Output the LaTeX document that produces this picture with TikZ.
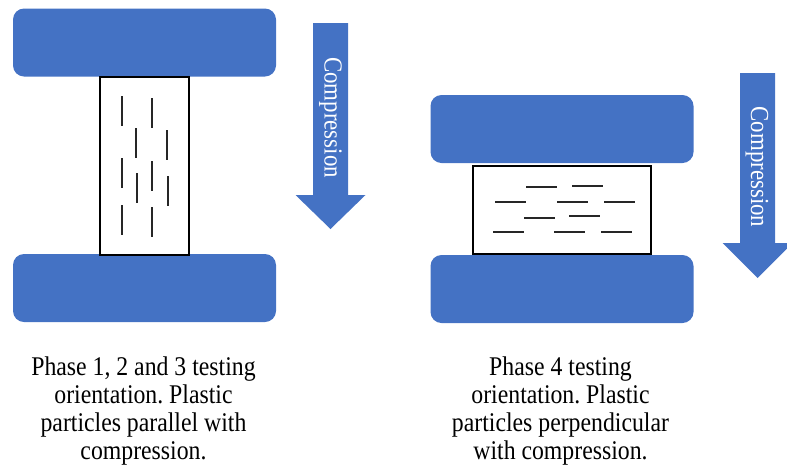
\documentclass[tikz,border=0pt]{standalone}
\usepackage{fontspec}
\setmainfont{Liberation Serif}
\newfontfamily\narrowserif[FakeStretch=0.88]{Liberation Serif}
\usepackage{tikz}
\usepackage{xcolor}
\definecolor{plateblue}{RGB}{68,114,196}
\frenchspacing

\begin{document}
\begin{tikzpicture}[
    x=1pt, y=-1pt,
    plate/.style={fill=plateblue, rounded corners=11pt, minimum width=263pt, minimum height=68pt, inner sep=0pt},
    sample/.style={draw, line width=2.8pt, fill=white, inner sep=0pt},
    particle/.style={line width=1.8pt, black!85},
    arrowlabel/.style={rotate=-90, text=white, font=\narrowserif\fontsize{26}{26}\selectfont},
    caption/.style={font=\narrowserif\fontsize{27}{27.7}\selectfont, align=center}
]
\useasboundingbox (0,0) rectangle (787,467);

% phase 1-3: particles parallel to the load
\node[plate] (topA) at (144.5, 42.5) {};
\node[plate] (botA) at (144.5, 288) {};
\node[sample, minimum width=89pt, minimum height=178pt] (specA) at (144.5, 166) {};
\foreach \x/\y in {122/96, 152/98, 136/128, 167/130, 122/158, 152/161, 137/173, 168/176, 122/205, 152/207}
    \draw[particle] (\x, \y) -- ++(0, 30);

\fill[plateblue] (313,23) -- (348,23) -- (348,195) -- (365.5,195) -- (330.5,229)
    -- (295.5,195) -- (313,195) -- cycle;
\node[arrowlabel] (loadA) at (330.5, 117.5) {Compression};

\node[caption] (capA) at (143.5, 411) {Phase 1, 2 and 3 testing\\ orientation. Plastic\\ particles parallel with\\ compression.};

% phase 4: particles perpendicular to the load
\node[plate] (topB) at (562, 129) {};
\node[plate] (botB) at (562, 289) {};
\node[sample, minimum width=178pt, minimum height=88pt] (specB) at (562, 210) {};
\foreach \x/\y in {526/187, 572/186, 495/202, 557/202, 604/202, 524/218, 569/216, 493/232, 554/232, 601/232}
    \draw[particle] (\x, \y) -- ++(31, 0);

\fill[plateblue] (740,73) -- (775,73) -- (775,243) -- (792.5,243) -- (757.5,278)
    -- (722.5,243) -- (740,243) -- cycle;
\node[arrowlabel] (loadB) at (757, 167) {Compression};

\node[caption] (capB) at (560.5, 411) {Phase 4 testing\\ orientation. Plastic\\ particles perpendicular\\ with compression.};
\end{tikzpicture}
\end{document}
